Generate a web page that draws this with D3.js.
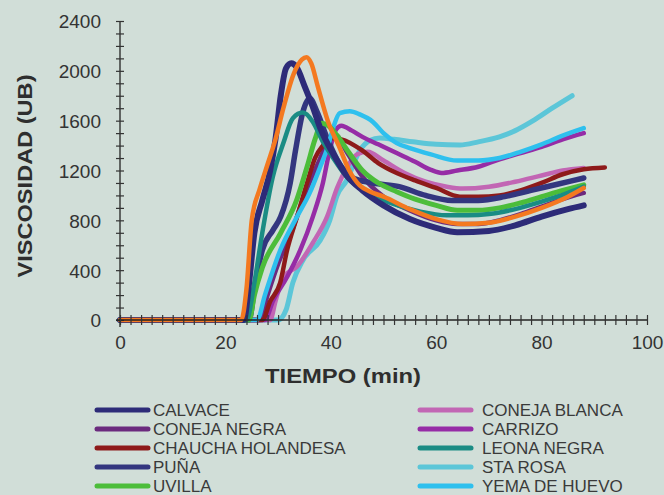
<!DOCTYPE html>
<html>
<head>
<meta charset="utf-8">
<script src="https://cdn.jsdelivr.net/npm/d3@7/dist/d3.min.js"></script>
<style>
    body { margin: 0; background: #d1ded8; }
    svg { display: block; font-family: "Liberation Sans", Arial, sans-serif; }
</style>
</head>
<body>
<svg id="chart"></svg>
<script>
// [tiempo (min), viscosidad (UB)]
const calvace = [[0,0],[23.5,0],[24.5,300],[25.5,700],[27,960],[28.5,1200],[29.5,1450],[30.5,1800],[31.5,2020],[32.5,2060],[33.5,2030],[35,1880],[36.5,1720],[38,1540],[40.5,1330],[43,1160],[46,1040],[50,920],[55,810],[60,740],[64,705],[70,715],[75,760],[80,830],[85,890],[88,920]];
const conejaNegra = [[0,0],[26.5,0],[28,200],[30,450],[32.5,700],[35,1000],[37.5,1250],[39.5,1430],[41,1480],[43,1350],[46,1150],[50,990],[55,880],[60,800],[64,770],[68,770],[72,800],[76,850],[80,910],[84,970],[88,1020]];
const chaucha = [[0,0],[27,0],[28.5,150],[30.4,300],[31.7,560],[33.6,830],[35.5,1100],[37,1300],[38.5,1400],[40,1460],[42,1450],[46,1360],[49,1260],[52.5,1180],[56,1120],[60,1060],[64.5,990],[68,990],[72,1000],[76,1040],[80,1100],[84,1170],[88,1210],[92,1225]];
const puna = [[0,0],[24.5,0],[25.5,250],[27,560],[29,720],[30.5,830],[32.3,1100],[33.3,1360],[34.7,1670],[36,1780],[37.4,1670],[39.3,1460],[41.7,1250],[44.2,1140],[48,1100],[53,1070],[58,1000],[63,960],[68,960],[73,990],[78,1040],[83,1090],[88,1140]];
const uvilla = [[0,0],[24.5,0],[25.5,200],[27,420],[30.5,700],[33.5,960],[35.5,1230],[37,1450],[38.3,1580],[39.5,1560],[41.2,1480],[43.5,1340],[46,1200],[49,1100],[52.5,1030],[56,970],[60,920],[64,880],[68,880],[72,900],[76,940],[80,990],[84,1040],[88,1085]];
const conejaBlanca = [[0,0],[28.5,0],[29.5,150],[31,345],[33.6,430],[36.6,620],[39.3,830],[41.2,1060],[43,1220],[45,1330],[47,1350],[50,1280],[54,1180],[58,1110],[62,1070],[65,1055],[70,1070],[75,1110],[80,1160],[84,1200],[88,1220]];
const carrizo = [[0,0],[27.5,0],[29,150],[31.7,345],[34.2,560],[36.6,830],[38.5,1100],[39.8,1365],[41,1530],[42,1560],[44,1520],[46,1470],[49,1410],[52.5,1340],[56,1270],[59,1205],[61,1180],[64,1200],[68,1230],[72,1290],[76,1340],[80,1390],[84,1450],[88,1500]];
const leonaNegra = [[0,0],[24,0],[25.5,300],[27,700],[29,1150],[31,1420],[32.8,1620],[34.7,1665],[36.6,1590],[38.5,1430],[40,1330],[43,1150],[47,1020],[52,930],[57,870],[62,840],[66,840],[70,850],[75,890],[80,950],[85,1020],[88,1070]];
const staRosa = [[0,0],[30,0],[31.5,80],[32.8,300],[34.7,480],[38,640],[39.8,800],[41.2,1000],[43,1120],[45.5,1360],[47.4,1440],[49.3,1460],[52,1450],[55.6,1430],[60,1410],[64.5,1405],[68,1430],[72,1470],[75,1520],[78.4,1600],[82,1700],[85.8,1800]];
const yemaHuevo = [[0,0],[26,0],[27.5,200],[30.4,560],[33.6,830],[36,1020],[38,1230],[39.5,1400],[40.5,1550],[41.7,1660],[43.6,1675],[45.5,1650],[48,1590],[50,1500],[52.5,1420],[55,1380],[59,1330],[64,1280],[68,1280],[72,1300],[76,1350],[80,1410],[84,1480],[88,1540]];
// orange curve has no legend entry
const sinNombre = [[0,0],[23,0],[24,250],[25,800],[26.5,1050],[28,1250],[29.5,1450],[31,1700],[33,1980],[34.5,2090],[35.4,2110],[36.3,2060],[37.5,1880],[39.5,1590],[41.5,1400],[43.5,1200],[45.5,1080],[47.5,1030],[50,990],[55,890],[60,810],[65,770],[70,780],[75,830],[80,900],[85,990],[88,1060]];

const legendLeft = ["CALVACE", "CONEJA NEGRA", "CHAUCHA HOLANDESA", "PUÑA", "UVILLA"];
const legendRight = ["CONEJA BLANCA", "CARRIZO", "LEONA NEGRA", "STA ROSA", "YEMA DE HUEVO"];
const yTicks = [0, 400, 800, 1200, 1600, 2000, 2400];
const xTicks = [0, 20, 40, 60, 80, 100];

const series = [
    { name: "STA ROSA", values: staRosa, color: "#5cc6d8", w: 5 },
    { name: "CONEJA BLANCA", values: conejaBlanca, color: "#c266b4", w: 4.5 },
    { name: "CARRIZO", values: carrizo, color: "#962ca6", w: 4.5 },
    { name: "CONEJA NEGRA", values: conejaNegra, color: "#6b2a7e", w: 4.5 },
    { name: "CHAUCHA HOLANDESA", values: chaucha, color: "#8e1a1a", w: 4.5 },
    { name: "PUÑA", values: puna, color: "#33367f", w: 5.5 },
    { name: "YEMA DE HUEVO", values: yemaHuevo, color: "#2ec0ee", w: 4.5 },
    { name: "UVILLA", values: uvilla, color: "#4cbd3a", w: 5 },
    { name: "LEONA NEGRA", values: leonaNegra, color: "#1a8c84", w: 4.5 },
    { name: "CALVACE", values: calvace, color: "#2d2b78", w: 6 },
    { name: "", values: sinNombre, color: "#f47920", w: 4.5 }
];
const colorOf = name => series.find(s => s.name === name).color;

const width = 664, height = 495;
const svg = d3.select("#chart").attr("width", width).attr("height", height);

const x = d3.scaleLinear().domain([0, 100]).range([120, 647]);
const y = d3.scaleLinear().domain([0, 2400]).range([320, 21]);

// curves
const line = d3.line()
    .x(d => x(d[0]))
    .y(d => y(d[1]))
    .curve(d3.curveMonotoneX);

svg.append("g").selectAll("path")
    .data(series)
    .enter().append("path")
    .attr("d", d => line(d.values))
    .attr("fill", "none")
    .attr("stroke", d => d.color)
    .attr("stroke-width", d => d.w)
    .attr("stroke-linejoin", "round")
    .attr("stroke-linecap", "round");

// axes, ticks cross the line
const yAxis = svg.append("g")
    .attr("transform", `translate(${x(0)},0)`)
    .call(d3.axisLeft(y).tickValues(d3.range(0, 2401, 100)).tickSize(4).tickSizeOuter(0)
        .tickFormat(d => yTicks.includes(d) ? d : ""));
yAxis.select(".domain").attr("d", `M0,${y(2400)}V${y(0) + 7}`);

const xAxis = svg.append("g")
    .attr("transform", `translate(0,${y(0)})`)
    .call(d3.axisBottom(x).tickValues(d3.range(0, 101, 2)).tickSize(5).tickSizeOuter(0)
        .tickFormat(d => xTicks.includes(d) ? d : ""));
xAxis.select(".domain").attr("d", `M${x(0) - 4},0H${x(100)}`);

[yAxis, xAxis].forEach(a => {
    a.select(".domain").attr("stroke", "#222").attr("stroke-width", 1.3);
    a.selectAll(".tick line").attr("stroke", "#333").attr("stroke-width", 1.2);
    a.selectAll(".tick text").attr("fill", "#333").style("font-size", "19px").style("font-family", "Liberation Sans, Arial, sans-serif");
});
yAxis.selectAll(".tick line").attr("x1", -4).attr("x2", 4);
yAxis.selectAll(".tick text").attr("x", -19).attr("dy", "0.36em");
xAxis.selectAll(".tick line").attr("y1", -5).attr("y2", 5);
xAxis.selectAll(".tick text").attr("y", 16);

// axis titles
svg.append("text")
    .attr("transform", `translate(32,176) rotate(-90)`)
    .attr("text-anchor", "middle")
    .attr("textLength", 203).attr("lengthAdjust", "spacingAndGlyphs")
    .style("font-size", "20px").style("font-weight", "bold").attr("fill", "#2e2e2e")
    .text("VISCOSIDAD (UB)");

svg.append("text")
    .attr("x", 343).attr("y", 383)
    .attr("text-anchor", "middle")
    .attr("textLength", 156).attr("lengthAdjust", "spacingAndGlyphs")
    .style("font-size", "21px").style("font-weight", "bold").attr("fill", "#2e2e2e")
    .text("TIEMPO (min)");

// legend
const legend = svg.append("g");
[[legendLeft, 95, 153], [legendRight, 418, 482]].forEach(([names, lx, tx]) => {
    const g = legend.selectAll(null).data(names).enter().append("g")
        .attr("transform", (d, i) => `translate(0,${410 + i * 19})`);
    g.append("line")
        .attr("x1", lx + 2).attr("x2", lx + 53)
        .attr("stroke", d => colorOf(d))
        .attr("stroke-width", 5).attr("stroke-linecap", "round");
    g.append("text")
        .attr("x", tx).attr("y", 6)
        .style("font-size", "17px").attr("fill", "#3a3a3a")
        .text(d => d);
});
</script>
</body>
</html>
